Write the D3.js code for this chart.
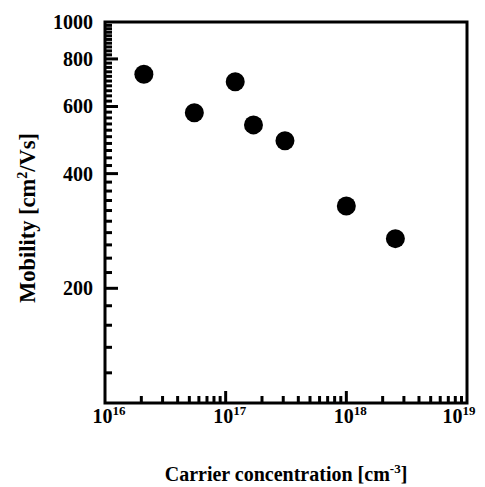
<!DOCTYPE html>
<html>
<head>
<meta charset="utf-8">
<script src="https://cdn.jsdelivr.net/npm/d3@7"></script>
<style>
body { margin: 0; background: #fff; }
text { font-family: "Liberation Serif", "Times New Roman", serif; font-weight: bold; fill: #000; }
</style>
</head>
<body>
<div id="chart"></div>
<script>
// carrier concentration [cm^-3] and mobility [cm^2/Vs]
const concentration = [2.1e16, 5.5e16, 1.2e17, 1.7e17, 3.1e17, 1.0e18, 2.55e18];
const mobility = [729, 578, 697, 537, 488, 329, 270];
const xDecades = [1e16, 1e17, 1e18, 1e19];
const xExponents = ['16', '17', '18', '19'];
const yMajor = [200, 400, 600, 800, 1000];

const width = 485, height = 487;
const margin = {top: 22, right: 18, bottom: 84, left: 105};

const xScale = d3.scaleLog()
                 .domain([1e16, 1e19])
                 .range([margin.left, width - margin.right]);
const yScale = d3.scaleLog()
                 .domain([100, 1000])
                 .range([height - margin.bottom, margin.top]);

const xMinor = [];
xDecades.slice(0, 3).forEach((d) => {
    for (let k = 2; k <= 9; k++) xMinor.push(k * d);
});
const yMinor = d3.range(120, 1000, 20).filter((v) => yMajor.indexOf(v) < 0);

const svg = d3.select('#chart')
              .append('svg')
              .attr('width', width)
              .attr('height', height);

const bottom = height - margin.bottom;
const left = margin.left;

// ticks pointing into the plot
const xTicks = xMinor.map((v) => ({v: v, len: 7}))
    .concat(xDecades.slice(1, 3).map((v) => ({v: v, len: 12})));
const yTicks = yMinor.map((v) => ({v: v, len: 7}))
    .concat(yMajor.slice(0, 4).map((v) => ({v: v, len: 13})));

svg.append('g')
   .selectAll('line')
   .data(xTicks)
   .enter()
   .append('line')
   .attr('x1', (d) => xScale(d.v))
   .attr('x2', (d) => xScale(d.v))
   .attr('y1', bottom)
   .attr('y2', (d) => bottom - d.len)
   .attr('stroke', '#000')
   .attr('stroke-width', 3);

svg.append('g')
   .selectAll('line')
   .data(yTicks)
   .enter()
   .append('line')
   .attr('x1', left)
   .attr('x2', (d) => left + d.len)
   .attr('y1', (d) => yScale(d.v))
   .attr('y2', (d) => yScale(d.v))
   .attr('stroke', '#000')
   .attr('stroke-width', 3);

// y tick labels
const yAxisG = svg.append('g')
   .attr('transform', `translate(${left},0)`)
   .call(d3.axisLeft(yScale).tickValues(yMajor).tickSize(0).tickPadding(12)
           .tickFormat(d3.format('d')));
yAxisG.select('.domain').remove();
yAxisG.selectAll('.tick text')
      .attr('font-size', 20)
      .attr('font-family', '"Liberation Serif", serif')
      .attr('font-weight', 'bold');

// frame
svg.append('rect')
   .attr('x', xScale.range()[0])
   .attr('y', yScale.range()[1])
   .attr('width', xScale.range()[1] - xScale.range()[0])
   .attr('height', yScale.range()[0] - yScale.range()[1])
   .attr('fill', 'none')
   .attr('stroke', '#000')
   .attr('stroke-width', 3);

// x tick labels with superscript exponents
const xLabels = svg.selectAll('.xlab')
   .data(xDecades)
   .enter()
   .append('text')
   .attr('class', 'xlab')
   .attr('x', (d, i) => i === 3 ? xScale(d) - 8 : xScale(d) + 4)
   .attr('y', bottom + 20)
   .attr('text-anchor', 'middle')
   .attr('font-size', 20);
xLabels.append('tspan').text('10');
xLabels.append('tspan')
       .attr('font-size', 13)
       .attr('dy', -8)
       .text((d, i) => xExponents[i]);

// axis titles
const xTitle = svg.append('text')
   .attr('x', (xScale.range()[0] + xScale.range()[1]) / 2)
   .attr('y', 481)
   .attr('text-anchor', 'middle')
   .attr('font-size', 20);
xTitle.append('tspan').text('Carrier concentration [cm');
xTitle.append('tspan').attr('font-size', 13).attr('dy', -8).text('-3');
xTitle.append('tspan').attr('dy', 8).text(']');

const yTitle = svg.append('text')
   .attr('transform', 'rotate(-90)')
   .attr('x', -218)
   .attr('y', 35)
   .attr('text-anchor', 'middle')
   .attr('font-size', 22.5);
yTitle.append('tspan').text('Mobility [cm');
yTitle.append('tspan').attr('font-size', 14).attr('dy', -8).text('2');
yTitle.append('tspan').attr('dy', 8).text('/Vs]');

// data points
svg.selectAll('circle')
   .data(concentration)
   .enter()
   .append('circle')
   .attr('cx', (d) => xScale(d))
   .attr('cy', (d, i) => yScale(mobility[i]))
   .attr('r', 9.5)
   .attr('fill', '#000');
</script>
</body>
</html>
